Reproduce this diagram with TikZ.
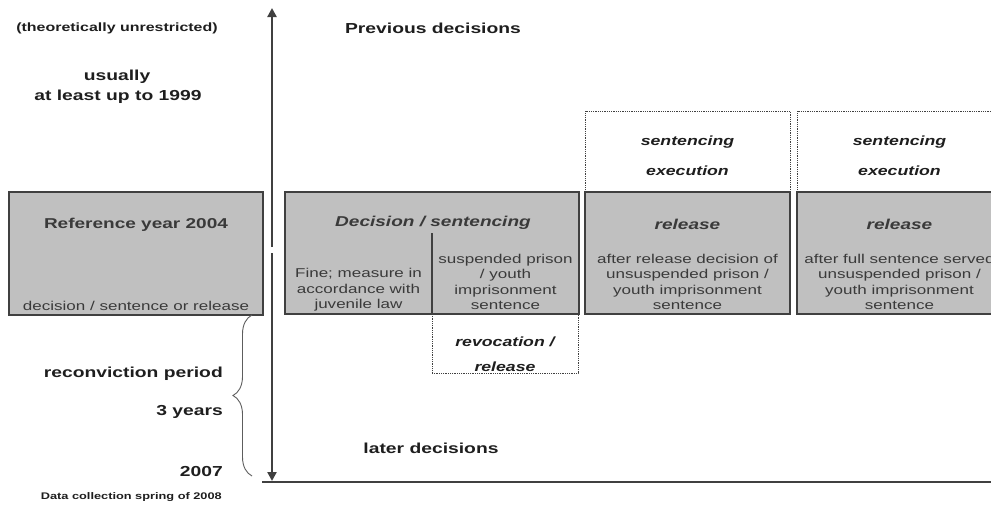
\documentclass[tikz,border=0pt]{standalone}
\usepackage{fontspec}
\setmainfont{Liberation Sans}[FakeStretch=1.33]
\usetikzlibrary{arrows.meta,decorations.pathreplacing}
\definecolor{boxgray}{HTML}{C0C0C0}
\definecolor{linegray}{HTML}{404040}
\definecolor{txtdark}{HTML}{1E1E1E}
\definecolor{txtbox}{HTML}{3A3A3A}
\tikzset{
  graybox/.style={draw=linegray,line width=1.4pt,fill=boxgray,inner sep=0pt},
  dotbox/.style={draw=linegray,densely dotted,line width=0.8pt,inner sep=0pt},
  axisline/.style={draw=linegray,line width=2.6pt},
  bigbold/.style={font=\fontsize{14.5}{17}\selectfont\bfseries,text=txtdark,inner sep=0pt},
  smallbold/.style={font=\fontsize{12}{14}\selectfont\bfseries,text=txtdark,inner sep=0pt},
  tinybold/.style={font=\fontsize{9.6}{12}\selectfont\bfseries,text=txtdark,inner sep=0pt},
  boxtitle/.style={font=\fontsize{14.3}{17}\selectfont\bfseries\itshape,text=txtbox,inner sep=0pt},
  boxtitleup/.style={font=\fontsize{14.3}{17}\selectfont\bfseries,text=txtbox,inner sep=0pt},
  boxtext/.style={font=\fontsize{12.8}{15.6}\selectfont,text=txtbox,align=center,inner sep=0pt},
  dotlabel/.style={font=\fontsize{13.3}{15}\selectfont\bfseries\itshape,text=txtdark,inner sep=0pt},
}
\begin{document}
\begin{tikzpicture}[x=1pt,y=-1pt]
\useasboundingbox (0,0) rectangle (991,504);
% dotted boxes
\node[dotbox,minimum width=205pt,minimum height=81pt] (se1) at (687.5,151.5) {};
\node[dotbox,minimum width=205pt,minimum height=81pt] (se2) at (899.5,151.5) {};
\node[dotbox,minimum width=146pt,minimum height=59pt] (rev) at (505,343.5) {};
% gray boxes
\node[graybox,minimum width=254pt,minimum height=123pt] (ref) at (136,253.5) {};
\node[graybox,minimum width=294pt,minimum height=122pt] (dec) at (432,253) {};
\node[graybox,minimum width=205pt,minimum height=122pt] (rel1) at (687.5,253) {};
\node[graybox,minimum width=205pt,minimum height=122pt] (rel2) at (899.5,253) {};
\coordinate (divtop) at (432,233);
\draw[linegray,line width=1.4pt] (divtop) -- (divtop |- dec.south);
% axis
\coordinate (axtop) at (272,8);
\coordinate (gaptop) at (272,247);
\coordinate (gapbot) at (272,253);
\coordinate (axbot) at (272,481);
\coordinate (hl) at (262,482);
\coordinate (hr) at (1000,482);
\draw[axisline,-{Triangle[width=9pt,length=9pt]}] (gaptop) -- (axtop);
\draw[axisline,-{Triangle[width=9pt,length=9pt]}] (gapbot) -- (axbot);
\draw[linegray,line width=2.2pt] (hl) -- (hr);
% brace
\coordinate (brtop) at (252,315);
\coordinate (brbot) at (252,476);
\draw[linegray!85,line width=0.9pt,decorate,decoration={brace,amplitude=19pt}] (brbot) -- (brtop);
% texts upper left
\node[smallbold] (theo) at (117,28) {(theoretically unrestricted)};
\node[bigbold] (usually) at (117,77) {usually};
\node[bigbold] (atleast) at (118,97) {at least up to 1999};
\node[bigbold] (prev) at (433,28) {Previous decisions};
% box texts
\node[boxtitleup] (reft) at (136,225) {Reference year 2004};
\node[boxtext] (refs) at (136,306) {decision / sentence or release};
\node[boxtitle] (dect) at (433,223) {Decision / sentencing};
\node[boxtext] (fine) at (358.5,290) {Fine; measure in\\accordance with\\juvenile law};
\node[boxtext] (susp) at (505.5,282) {suspended prison\\/ youth\\imprisonment\\sentence};
\node[dotlabel] (revt1) at (505,342) {revocation /};
\node[dotlabel] (revt2) at (505,367) {release};
\node[dotlabel] (s1a) at (687.5,142) {sentencing};
\node[dotlabel] (s1b) at (687.5,171) {execution};
\node[dotlabel] (s2a) at (899.5,142) {sentencing};
\node[dotlabel] (s2b) at (899.5,171) {execution};
\node[boxtitle] (r1t) at (687.5,224) {release};
\node[boxtitle] (r2t) at (899.5,224) {release};
\node[boxtext] (r1s) at (687.5,282) {after release decision of\\unsuspended prison /\\youth imprisonment\\sentence};
\node[boxtext] (r2s) at (899.5,282) {after full sentence served\\unsuspended prison /\\youth imprisonment\\sentence};
% lower left
\node[bigbold,anchor=east] (recon) at (223,374) {reconviction period};
\node[bigbold,anchor=east] (three) at (223,412) {3 years};
\node[bigbold,anchor=east] (y2007) at (223,472) {2007};
\node[tinybold,anchor=east] (data) at (222,497) {Data collection spring of 2008};
\node[bigbold] (later) at (431,448) {later decisions};
\end{tikzpicture}
\end{document}
